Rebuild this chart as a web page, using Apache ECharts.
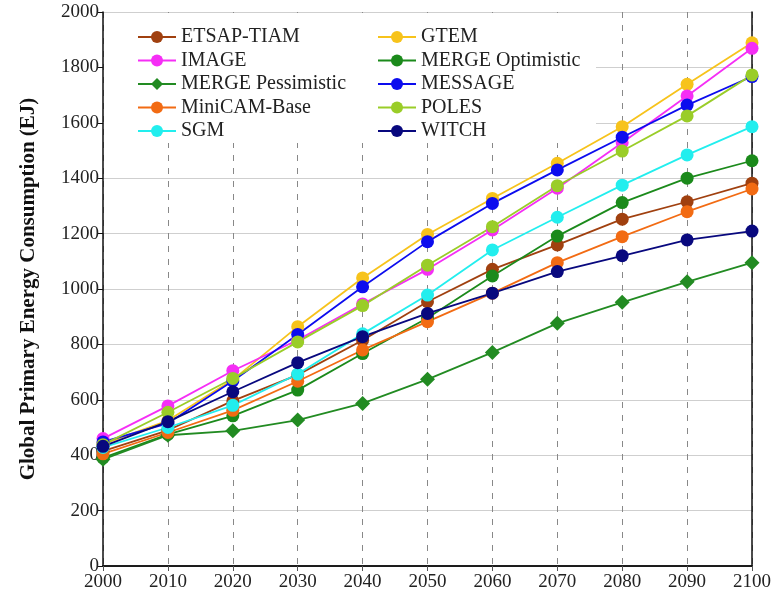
<!DOCTYPE html>
<html>
<head>
<meta charset="utf-8">
<script src="https://cdn.jsdelivr.net/npm/echarts@6/dist/echarts.min.js"></script>
<style>html,body{margin:0;padding:0;background:#fff;}#c{width:778px;height:597px;}</style>
</head>
<body>
<div id="c"></div>
<script>
var years = [2000, 2010, 2020, 2030, 2040, 2050, 2060, 2070, 2080, 2090, 2100];
var etsap   = [415, 490, 596, 690, 815, 954, 1071, 1159, 1252, 1315, 1382];
var gtem    = [440, 525, 672, 864, 1040, 1197, 1327, 1454, 1586, 1739, 1889];
var image   = [460, 578, 705, 816, 946, 1071, 1213, 1364, 1528, 1697, 1869];
var mergeOpt  = [390, 475, 542, 635, 767, 895, 1047, 1191, 1312, 1400, 1463];
var mergePess = [385, 472, 488, 527, 587, 674, 771, 876, 952, 1026, 1095];
var message = [448, 515, 668, 836, 1008, 1171, 1309, 1430, 1548, 1664, 1767];
var minicam = [405, 482, 562, 667, 780, 882, 985, 1095, 1189, 1279, 1361];
var poles   = [438, 555, 677, 809, 940, 1086, 1225, 1373, 1498, 1625, 1773];
var sgm     = [428, 500, 580, 693, 838, 978, 1141, 1259, 1375, 1484, 1586];
var witch   = [432, 521, 629, 734, 828, 912, 985, 1063, 1120, 1177, 1209];

var seriesDefs = [
  {name: 'ETSAP-TIAM', data: etsap, color: '#a0400f', symbol: 'circle'},
  {name: 'GTEM', data: gtem, color: '#f7c31b', symbol: 'circle'},
  {name: 'IMAGE', data: image, color: '#f52ef5', symbol: 'circle'},
  {name: 'MERGE Optimistic', data: mergeOpt, color: '#1b8a1b', symbol: 'circle'},
  {name: 'MERGE Pessimistic', data: mergePess, color: '#228b22', symbol: 'diamond'},
  {name: 'MESSAGE', data: message, color: '#0c0cee', symbol: 'circle'},
  {name: 'MiniCAM-Base', data: minicam, color: '#f26b13', symbol: 'circle'},
  {name: 'POLES', data: poles, color: '#9acd28', symbol: 'circle'},
  {name: 'SGM', data: sgm, color: '#22eeee', symbol: 'circle'},
  {name: 'WITCH', data: witch, color: '#08087e', symbol: 'circle'}
];

var serif = '"Liberation Serif", "Times New Roman", serif';

var series = seriesDefs.map(function (s) {
  return {
    name: s.name,
    type: 'line',
    symbol: s.symbol,
    symbolSize: s.symbol === 'diamond' ? 15 : 13,
    data: years.map(function (y, i) { return [y, s.data[i]]; }),
    lineStyle: {color: s.color, width: 1.8},
    itemStyle: {color: s.color},
    emphasis: {disabled: true},
    animation: false
  };
});

var legendCommon = {
  orient: 'vertical',
  padding: 0,
  itemWidth: 38,
  itemHeight: 15,
  itemGap: 3.5,
  textStyle: {fontFamily: serif, fontSize: 20, color: '#222', lineHeight: 20},
  selectedMode: false,
  top: 27
};

function plain(v) { return String(v); }

var chart = echarts.init(document.getElementById('c'));
chart.setOption({
  backgroundColor: '#fff',
  animation: false,
  grid: {left: 103, right: 26, top: 12, bottom: 31, containLabel: false},
  legend: [
    Object.assign({}, legendCommon, {left: 137, data: ['ETSAP-TIAM', 'IMAGE', 'MERGE Pessimistic', 'MiniCAM-Base', 'SGM']}),
    Object.assign({}, legendCommon, {left: 377, data: ['GTEM', 'MERGE Optimistic', 'MESSAGE', 'POLES', 'WITCH']})
  ],
  graphic: [{
    type: 'rect', left: 104, top: 13, z: 1,
    shape: {width: 492, height: 130},
    style: {fill: '#fff'}
  }],
  xAxis: [{
    type: 'value', min: 2000, max: 2100, interval: 10, position: 'bottom',
    axisLine: {show: true, lineStyle: {color: '#111', width: 1.5}},
    axisTick: {show: true, inside: false, length: 5, lineStyle: {color: '#111'}},
    axisLabel: {fontFamily: serif, fontSize: 19, color: '#222', margin: 7, formatter: plain},
    splitLine: {show: true, lineStyle: {color: '#888', type: [6, 7], width: 1}}
  }, {
    type: 'value', min: 2000, max: 2100, interval: 10, position: 'top',
    axisLine: {show: true, lineStyle: {color: '#111', width: 1.5}},
    axisTick: {show: true, inside: true, length: 5, lineStyle: {color: '#555'}},
    axisLabel: {show: false},
    splitLine: {show: false}
  }],
  yAxis: [{
    type: 'value', min: 0, max: 2000, interval: 200, position: 'left',
    name: 'Global Primary Energy Consumption (EJ)',
    nameLocation: 'middle', nameGap: 64, nameRotate: 90,
    nameTextStyle: {fontFamily: serif, fontSize: 21, fontWeight: 'bold', color: '#111'},
    axisLine: {show: true, lineStyle: {color: '#111', width: 1.5}},
    axisTick: {show: true, inside: false, length: 6, lineStyle: {color: '#111'}},
    axisLabel: {fontFamily: serif, fontSize: 19, color: '#222', margin: 4, formatter: plain},
    splitLine: {show: true, lineStyle: {color: '#cfcfcf', width: 1}}
  }, {
    type: 'value', min: 0, max: 2000, interval: 200, position: 'right',
    axisLine: {show: true, lineStyle: {color: '#111', width: 1.5}},
    axisTick: {show: false},
    axisLabel: {show: false},
    splitLine: {show: false}
  }],
  series: series
});
</script>
</body>
</html>
